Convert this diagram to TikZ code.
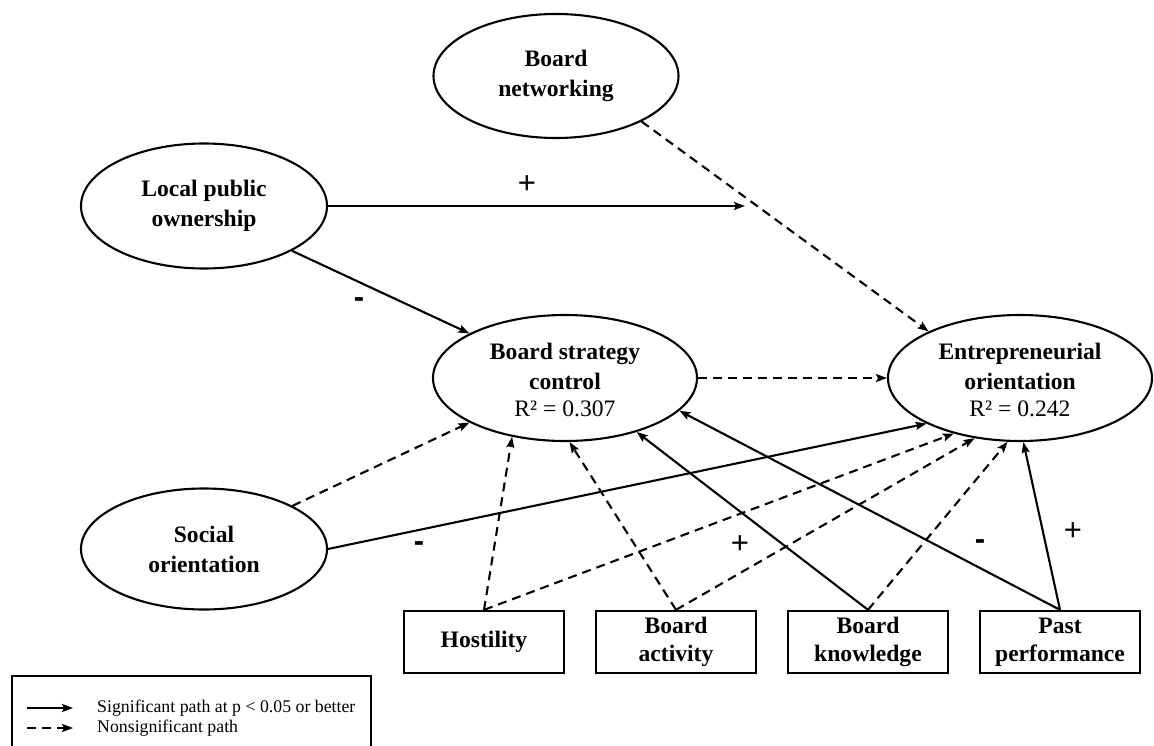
\documentclass[tikz,border=0pt]{standalone}
\usepackage{fontspec}
\setmainfont{Liberation Serif}
\newfontfamily\signfont{Liberation Sans}
\usetikzlibrary{arrows.meta,shapes.geometric}

\begin{document}
\begin{tikzpicture}[x=1pt,y=-1pt,
  latent/.style={ellipse, draw, line width=2.1pt, inner sep=0pt, align=center,
    font=\bfseries\fontsize{23.6}{30}\selectfont},
  observed/.style={rectangle, draw, line width=2.3pt, inner sep=0pt,
    minimum width=160pt, minimum height=62pt, align=center,
    font=\bfseries\fontsize{23.6}{28}\selectfont},
  sig/.style={line width=2.1pt, -{Stealth[length=11pt,width=8pt,inset=2pt]}},
  nonsig/.style={sig, dash pattern=on 9pt off 6pt},
  plussign/.style={inner sep=0pt, font=\signfont\fontsize{31}{31}\selectfont},
  minussign/.style={inner sep=0pt, font=\signfont\bfseries\fontsize{31}{31}\selectfont},
  legendtext/.style={anchor=west, inner sep=0pt, font=\fontsize{17.8}{20}\selectfont}]

\useasboundingbox (0,0) rectangle (1154,746);

% latent constructs
\node[latent, minimum width=245pt, minimum height=124pt] (net) at (556,76) {Board\\networking};
\node[latent, minimum width=246pt, minimum height=125pt] (lpo) at (204,206) {Local public\\ownership};
\node[latent, minimum width=246pt, minimum height=121pt] (soc) at (204,549) {Social\\orientation};
\node[latent, minimum width=264pt, minimum height=126pt] (bsc) at (565,378)
  {\rule{0pt}{20pt}Board strategy\\control\\[-3pt]{\mdseries R² = 0.307}};
\node[latent, minimum width=264pt, minimum height=126pt] (eo) at (1020,378)
  {\rule{0pt}{20pt}Entrepreneurial\\orientation\\[-3pt]{\mdseries R² = 0.242}};

% observed variables
\node[observed] (host) at (484,642) {Hostility};
\node[observed] (act)  at (676,642) {Board\\activity};
\node[observed] (know) at (868,642) {Board\\knowledge};
\node[observed] (past) at (1060,642) {Past\\performance};

% moderation target on the networking path
\coordinate (m) at (745,206);

% paths
\draw[sig] (lpo.east) -- (m);
\draw[sig] (lpo.-27) -- (bsc.155);
\draw[nonsig] (net.-28) -- (eo.153);
\draw[nonsig] (bsc.east) -- (eo.west);
\draw[nonsig] (soc.26) -- (bsc.205);
\draw[sig] (soc.east) -- (eo.206);
\draw[nonsig] (host.north) -- (bsc.228);
\draw[nonsig] (act.north) -- (bsc.274);
\draw[sig] (know.north) -- (bsc.-37);
\draw[sig] (past.north) -- (bsc.-16);
\draw[nonsig] (host.north) -- (eo.220);
\draw[nonsig] (act.north) -- (eo.233);
\draw[nonsig] (know.north) -- (eo.259);
\draw[sig] (past.north) -- (eo.273);

% path signs
\node[plussign]  (s1) at (527,185) {+};
\node[minussign] (s2) at (359,303) {-};
\node[minussign] (s3) at (419,547) {-};
\node[plussign]  (s4) at (740,545) {+};
\node[minussign] (s5) at (980,545) {-};
\node[plussign]  (s6) at (1073,532) {+};

% legend
\draw[line width=2.3pt] (12,748) -- (12,676) -- (371,676) -- (371,748);
\coordinate (la) at (27,708);
\coordinate (lb) at (73,708);
\coordinate (lc) at (27,728);
\coordinate (ld) at (73,728);
\draw[sig] (la) -- (lb);
\draw[nonsig] (lc) -- (ld);
\node[legendtext] (t1) at (97,708) {Significant path at p < 0.05 or better};
\node[legendtext] (t2) at (97,728) {Nonsignificant path};

\end{tikzpicture}
\end{document}
